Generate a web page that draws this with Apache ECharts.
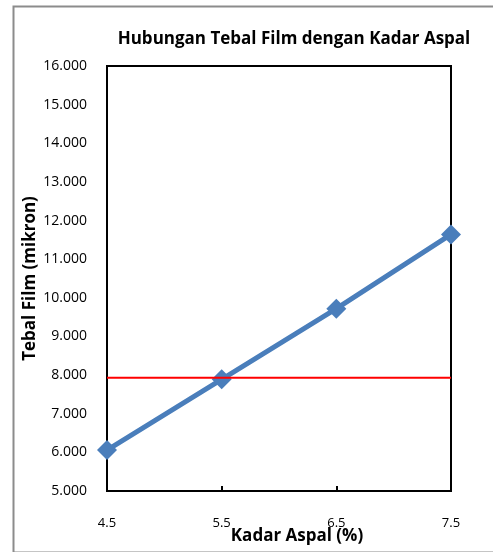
<!DOCTYPE html>
<html>
<head>
<meta charset="utf-8">
<script src="https://cdn.jsdelivr.net/npm/echarts@6/dist/echarts.min.js"></script>
<style>
html,body{margin:0;padding:0;background:#fff;}
#main{width:493px;height:552px;}
</style>
</head>
<body>
<div id="main"></div>
<script>
// data
var kadarAspal = [4.5, 5.5, 6.5, 7.5];
var tebalFilm = [6.06, 7.89, 9.72, 11.64];
var batasX = [4.5, 7.5];        // red reference line extent
var batasY = [7.93, 7.93];      // min film thickness

var myChart = echarts.init(document.getElementById('main'));
var fontFam = '"Open Sans", sans-serif';

var option = {
    animation: false,
    backgroundColor: '#fff',
    title: {
        text: 'Hubungan Tebal Film dengan Kadar Aspal',
        left: 289, top: 26, textAlign: 'center',
        textStyle: {fontFamily: fontFam, fontSize: 17, fontWeight: 'bold', color: '#000'}
    },
    graphic: [{
        type: 'rect', left: 11, top: 4,
        shape: {width: 490, height: 546},
        style: {fill: 'none', stroke: '#8c8c8c', lineWidth: 2}
    }],
    grid: {left: 107, right: 42, top: 66, bottom: 61, outerBoundsMode: 'none',
        show: true, borderColor: '#000', borderWidth: 2},
    xAxis: {
        type: 'value', min: 4.5, max: 7.5, interval: 1,
        name: 'Kadar Aspal (%)', nameLocation: 'middle', nameGap: 37, nameMoveOverlap: false,
        nameTextStyle: {fontFamily: fontFam, fontSize: 17, fontWeight: 'bold', color: '#000', padding: [0, 0, 0, 36]},
        axisLine: {lineStyle: {color: '#000', width: 2}},
        axisTick: {inside: true, length: 5, lineStyle: {color: '#000', width: 2}},
        axisLabel: {margin: 26, fontFamily: fontFam, fontSize: 13, color: '#000',
            formatter: function(v){ return v.toFixed(1); }},
        splitLine: {show: false}
    },
    yAxis: {
        type: 'value', min: 5, max: 16, interval: 1,
        name: 'Tebal Film (mikron)', nameLocation: 'middle', nameGap: 68, nameMoveOverlap: false,
        nameTextStyle: {fontFamily: fontFam, fontSize: 17, fontWeight: 'bold', color: '#000'},
        axisLine: {lineStyle: {color: '#000', width: 2}},
        axisTick: {show: false},
        axisLabel: {margin: 20, fontFamily: fontFam, fontSize: 14, color: '#000',
            formatter: function(v){ return v.toFixed(3); }},
        splitLine: {show: false}
    },
    series: [{
        type: 'line',
        data: batasX.map(function(x, i){ return [x, batasY[i]]; }),
        showSymbol: false, symbol: 'none',
        lineStyle: {color: '#ff0000', width: 2},
        z: 3
    }, {
        type: 'line',
        data: kadarAspal.map(function(x, i){ return [x, tebalFilm[i]]; }),
        symbol: 'diamond', symbolSize: 20,
        lineStyle: {color: '#4a7ebb', width: 5},
        itemStyle: {color: '#4a7ebb'},
        z: 2
    }]
};

myChart.setOption(option);
</script>
</body>
</html>
